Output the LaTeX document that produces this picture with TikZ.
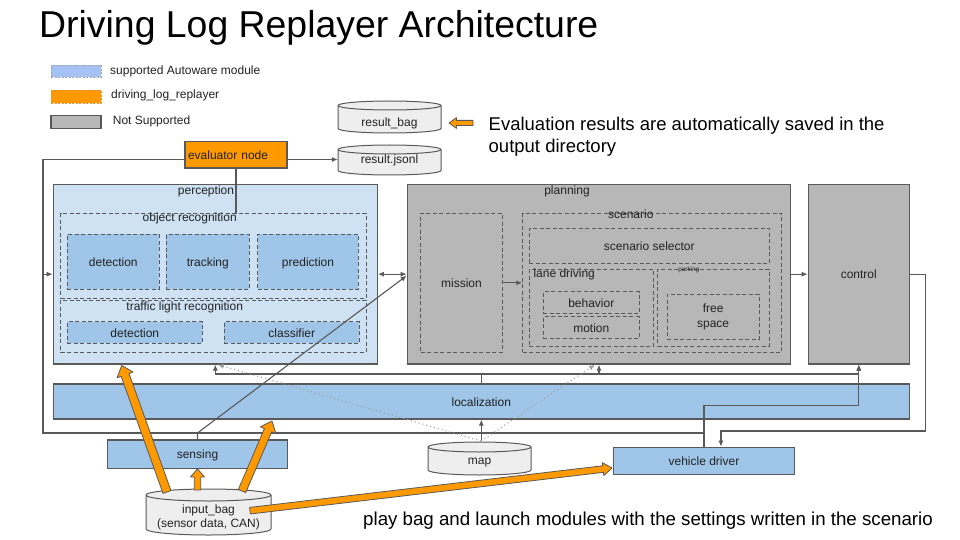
\documentclass[tikz,border=0pt]{standalone}
\usepackage{fontspec}
\setmainfont{Liberation Sans}
\usetikzlibrary{calc,arrows.meta,backgrounds}
\definecolor{edge}{HTML}{595959}
\definecolor{lblue}{HTML}{CFE2F3}
\definecolor{mblue}{HTML}{9FC5E8}
\definecolor{legblue}{HTML}{A4C2F4}
\definecolor{orng}{HTML}{FF9900}
\definecolor{orngdk}{HTML}{E69138}
\definecolor{gry}{HTML}{B7B7B7}
\definecolor{cylfill}{HTML}{EEEEEE}
\definecolor{txt}{HTML}{222222}
\tikzset{
  every node/.style={font=\fontsize{12}{14}\selectfont, text=txt, inner sep=0pt},
  rc/.style n args={4}{minimum width={#3-#1}, minimum height={#4-#2}, at={({(#1+#3)/2},{(#2+#4)/2})}},
  txtfix/.style={text height=12pt, text depth=2.5pt},
  box/.style={draw=edge, line width=1.2pt, rectangle},
  dbox/.style={draw=edge, line width=0.9pt, dash pattern=on 4pt off 2.5pt, rectangle},
  conn/.style={draw=edge, line width=1.1pt},
  tip/.style={-{Latex[length=6pt,width=5pt]}},
  dots/.style={draw=edge!60, line width=1.1pt, dash pattern=on 1pt off 3pt},
  cylsty/.style={draw=edge, line width=1pt, fill=cylfill},
  oarr/.style={draw=edge, line width=0.8pt, fill=orng, line join=round},
}
\newcommand{\cylshape}[6]{%
  \begin{pgfonlayer}{background}
  \draw[cylsty] (#1,#2+#6) -- (#1,#4-#6) arc[start angle=180,end angle=360,x radius=#5pt,y radius=#6pt] -- (#3,#2+#6) arc[start angle=0,end angle=180,x radius=#5pt,y radius=#6pt] -- cycle;
  \draw[cylsty,fill=none] (#1,#2+#6) arc[start angle=180,end angle=360,x radius=#5pt,y radius=#6pt];
  \end{pgfonlayer}}
\newcommand{\orangearrow}[5]{%
  \coordinate (oaH) at ($(#2)!#5!(#1)$);
  \draw[oarr] ($(#1)!#3!90:(#2)$) -- ($(oaH)!#3!90:(#2)$) -- ($(oaH)!#4!90:(#2)$) -- (#2) -- ($(oaH)!#4!-90:(#2)$) -- ($(oaH)!#3!-90:(#2)$) -- ($(#1)!#3!-90:(#2)$) -- cycle;}
\begin{document}
\begin{tikzpicture}[x=1pt,y=-1pt]
\useasboundingbox (0,0) rectangle (960,540);
\begin{pgfonlayer}{background}
\fill[white] (0,0) rectangle (960,540);
\end{pgfonlayer}

% title
\node[anchor=base west, font=\fontsize{37.4}{40}\selectfont, text=black] (title) at (39,37.5) {Driving Log Replayer Architecture};

% legend
\node[fill=legblue, draw=edge!55, line width=0.8pt, dash pattern=on 2pt off 1.5pt, rc={51}{65}{101}{77}] (lg1) {};
\node[anchor=west] (lg1t) at (110,71.5) {supported Autoware module};
\node[fill=orng, draw=orngdk, line width=0.8pt, dash pattern=on 2pt off 1.5pt, rc={51}{90}{101}{103}] (lg2) {};
\node[anchor=west] (lg2t) at (111,95.3) {driving\_log\_replayer};
\node[fill=gry, box, rc={51}{115.3}{101}{128.7}] (lg3) {};
\node[anchor=west] (lg3t) at (112.7,121) {Not Supported};

% results
\cylshape{338}{101}{441}{133}{51.5}{4.5}
\node[minimum width=103pt, minimum height=18pt] (rbag) at (389.5,123.7) {result\_bag};
\cylshape{338}{145}{441}{175}{51.5}{4.5}
\node[minimum width=103pt, minimum height=18pt] (rjson) at (389.5,160.5) {result.jsonl};
\coordinate (ea1) at (473,123);
\coordinate (ea2) at (449,123);
\orangearrow{ea1}{ea2}{2.6pt}{5.4pt}{7.5pt}
\node[anchor=north west, align=left, font=\fontsize{18.5}{22}\selectfont, text=black] (evaltxt) at (488.5,117) {Evaluation results are automatically saved in the\\output directory};

% evaluator
\node[box, fill=orng, rc={185}{141.5}{287}{168}, text width=96pt, align=left, txtfix] (evaluator) {evaluator node};

% perception
\node[box, fill=lblue, rc={53.3}{184.3}{377.3}{364}] (perc) {};
\node (perclbl) at (206,191.5) {perception};
\node[dbox, rc={60.7}{213.3}{366}{298.3}] (objrec) {};
\node (objlbl) at (189.7,218) {object recognition};
\node[dbox, fill=mblue, txtfix, rc={67.3}{234.3}{159.3}{289}] (det1) {detection};
\node[dbox, fill=mblue, txtfix, rc={166.3}{234.3}{249.3}{289}] (trk) {tracking};
\node[dbox, fill=mblue, txtfix, rc={257.7}{234.3}{358.3}{289}] (pred) {prediction};
\node[dbox, rc={60.7}{300}{366}{352.3}] (tlr) {};
\node (tlrlbl) at (184.7,307) {traffic light recognition};
\node[dbox, fill=mblue, txtfix, rc={67.3}{321.7}{202.3}{343.3}] (det2) {detection};
\node[dbox, fill=mblue, txtfix, rc={224.3}{321.7}{359.3}{343.3}] (cls) {classifier};

% planning
\node[box, fill=gry, rc={407.3}{184.3}{790.7}{364}] (plan) {};
\node (planlbl) at (567,191.5) {planning};
\node[dbox, txtfix, rc={420.7}{213.3}{502.3}{352.3}] (mission) {mission};
\node[dbox, rc={522.7}{213.3}{781.7}{352.3}] (scen) {};
\node (scenlbl) at (630.8,214) {scenario};
\node[dbox, txtfix, rc={529.3}{228.3}{769.3}{263.3}] (scensel) {scenario selector};
\node[dbox, rc={529.3}{269}{653.3}{346}] (lane) {};
\node[anchor=west] (lanelbl) at (533.3,274) {lane driving};
\node[dbox, rc={657.7}{269}{769.3}{346}] (park) {};
\node[font=\fontsize{6.4}{7}\selectfont] (parklbl) at (688.8,269.8) {parking};
\node[dbox, txtfix, rc={543.3}{291.7}{639.3}{313.3}] (beh) {behavior};
\node[dbox, txtfix, rc={543.3}{316.7}{639.3}{338.3}] (mot) {motion};
\node[dbox, rc={667.3}{294.3}{759}{339.3}, align=center, font=\fontsize{12}{14.3}\selectfont] (free) {free\\space};

% control
\node[box, fill=gry, txtfix, rc={808.3}{184.3}{909.3}{364}] (ctrl) {control};

% localization, sensing, vehicle driver
\node[box, fill=mblue, txtfix, rc={53.3}{384}{909.3}{419}] (loc) {localization};
\node[box, fill=mblue, txtfix, rc={107.3}{440}{287.7}{468.3}] (sens) {sensing};
\node[box, fill=mblue, txtfix, rc={613.6}{447.3}{794.3}{474.3}] (vdrv) {vehicle driver};

% map and input bag
\cylshape{428}{442}{531}{475}{51.5}{5}
\node[minimum width=103pt, minimum height=18pt] (map) at (479.5,462.7) {map};
\cylshape{146}{489}{271}{535}{62.5}{6}
\node[align=center, font=\fontsize{12}{13.3}\selectfont] (inbag) at (208.5,517.5) {input\_bag\\(sensor data, CAN)};

\node[anchor=base west, font=\fontsize{18.7}{22}\selectfont, text=black] (playtxt) at (363,525) {play bag and launch modules with the settings written in the scenario};

% coordinates
\coordinate (lpSW) at (43,433);
\coordinate (lpNW) at (43,159.5);
\coordinate (vcY) at (0,405.7);
\coordinate (cvR) at (925.5,431);
\coordinate (busY) at (0,374);
\coordinate (maptop) at (481,441);

% connectors
\draw[conn] (vdrv.north) -- (vdrv.north |- lpSW) -- (lpSW) -- (lpNW) -- (evaluator.west |- lpNW);
\draw[conn,tip] (vdrv.north) -- (vdrv.north |- vcY) -| (ctrl.south);
\draw[conn,tip] (lpNW |- perc.west) -- (perc.west);
\draw[conn] (evaluator.south) -- ([yshift=-1.5pt]evaluator.south |- objrec.north);
\draw[conn,tip] (evaluator.east |- lpNW) -- (rjson.west |- lpNW);
\draw[conn,{Latex[length=6pt,width=5pt]}-{Latex[length=6pt,width=5pt]}] (perc.east) -- (plan.west);
\draw[conn,tip] (mission.east) -- (scen.west);
\draw[conn,tip] (plan.east) -- (ctrl.west);
\draw[conn,tip] (ctrl.east) -| (cvR) -| ([xshift=17pt]vdrv.north);
\draw[conn,tip] (loc.north) |- (perc.south |- busY) -- (perc.south);
\draw[conn,tip] (loc.north) |- (plan.south |- busY) -- (plan.south);
\draw[conn,tip] (loc.north) |- (ctrl.south |- busY) -- (ctrl.south);
\draw[conn,tip] (maptop -| loc.south) -- (loc.south);
\draw[dots,tip] (maptop) -- ([xshift=2.5pt]perc.south);
\draw[dots,tip] (maptop) -- ([xshift=-4pt]plan.south);
\draw[conn,tip] (sens.north) -- (sens.north |- lpSW) -- ([yshift=-1.5pt]plan.west);

% orange arrows from input bag
\coordinate (ib1) at (167,492);
\coordinate (ib2) at (197.5,490);
\coordinate (ib3) at (242,491);
\coordinate (ib4) at (250,510.7);
\coordinate (t1) at (121.7,365.5);
\coordinate (t3) at (272,421);
\coordinate (t4) at (612,468);
\orangearrow{ib1}{t1}{4.2pt}{8.5pt}{10pt}
\orangearrow{ib2}{sens.south}{3.2pt}{7pt}{8pt}
\orangearrow{ib3}{t3}{4pt}{8.5pt}{10pt}
\orangearrow{ib4}{t4}{3.3pt}{6.5pt}{9pt}
\end{tikzpicture}
\end{document}
